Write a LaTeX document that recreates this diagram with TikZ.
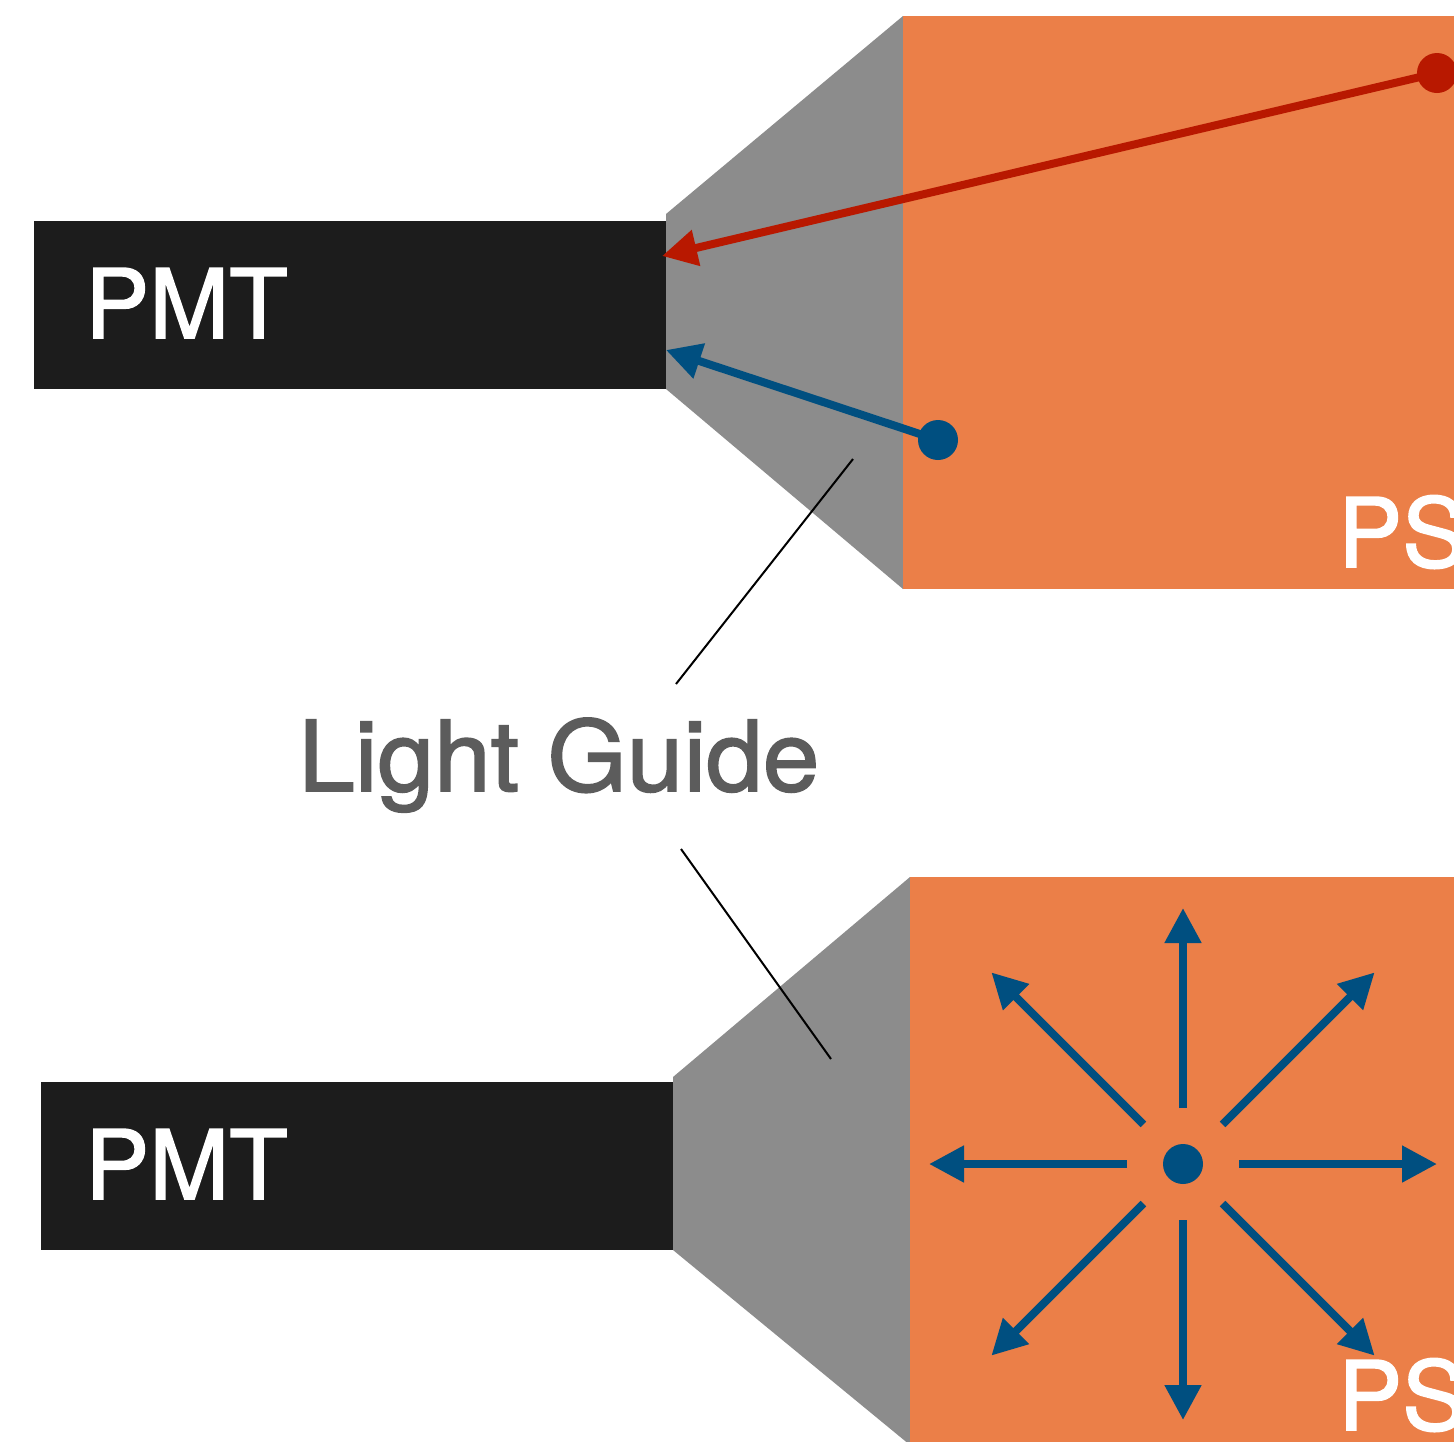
\documentclass[tikz,border=0pt]{standalone}
\usepackage{fontspec}
\setmainfont{TeX Gyre Heros}
\newfontfamily\medfont{TeX Gyre Heros}[FakeBold=1.6]
\usetikzlibrary{arrows.meta}

\definecolor{psorange}{HTML}{EB7F48}
\definecolor{guidegray}{HTML}{8C8C8C}
\definecolor{pmtblack}{HTML}{1C1C1C}
\definecolor{rayred}{HTML}{B81800}
\definecolor{rayblue}{HTML}{004F80}
\definecolor{labelgray}{HTML}{5C5C5C}

\tikzset{
  pmtbox/.style={fill=pmtblack, draw=none},
  guide/.style={fill=guidegray, draw=none},
  scint/.style={fill=psorange, draw=none},
  boxlabel/.style={text=white, inner sep=0pt, anchor=base west,
    font=\medfont\fontsize{96}{100}\selectfont},
  dot/.style={circle, inner sep=0pt, minimum size=40pt, draw=none},
  ray/.style={line width=8pt, -{Triangle[length=35pt,width=35pt]}},
  leader/.style={line width=2pt, black}
}

\begin{document}
\begin{tikzpicture}[x=1pt,y=-1pt]
  \useasboundingbox (0,0) rectangle (1454,1441);
  \clip (0,0) rectangle (1454,1441);
  \fill[white] (0,0) rectangle (1454,1441);

  % ---- upper assembly: PMT, light guide, scintillator ----
  \fill[guide] (666,214) -- (903,16) -- (903,589) -- (666,389) -- cycle;
  \fill[pmtbox] (34,221) rectangle (666,389);
  \fill[scint] (903,16) rectangle (1460,589);
  \node[boxlabel] (pmtA) at (85,338) {PMT};
  \node[boxlabel] (psA) at (1338,567) {PS};

  \coordinate (redtip) at (662,256);
  \coordinate (bluetip) at (666,350);
  \node[dot, fill=rayred] (reddot) at (1437,73) {};
  \node[dot, fill=rayblue] (bluedot) at (938,440) {};
  \draw[ray, rayred] (reddot.center) -- (redtip);
  \draw[ray, rayblue] (bluedot.center) -- (bluetip);

  % ---- lower assembly ----
  \fill[guide] (673,1077) -- (910,877) -- (910,1445) -- (673,1250) -- cycle;
  \fill[pmtbox] (41,1082) rectangle (673,1250);
  \fill[scint] (910,877) rectangle (1460,1445);
  \node[boxlabel] (pmtB) at (85,1199) {PMT};
  \node[boxlabel] (psB) at (1338,1430) {PS};

  % isotropic emission from a point source
  \node[dot, fill=rayblue] (src) at (1183,1164) {};
  \foreach \a/\r in {0/254, 90/256, 180/254, 270/256,
                     45/271, 135/271, 225/271, 315/271} {
    \draw[ray, rayblue] ([shift={(\a:56)}]src.center) -- ([shift={(\a:\r)}]src.center);
  }

  % ---- label with leader lines ----
  \node[text=labelgray, inner sep=0pt, anchor=base west,
        font=\medfont\fontsize{98}{100}\selectfont, xscale=1.04] (lg) at (298,791) {Light Guide};
  \coordinate (lgupper) at (853,459);
  \coordinate (lglower) at (831,1059);
  \coordinate (lgtop) at (676,684);
  \coordinate (lgbottom) at (681,849);
  \draw[leader] (lgtop) -- (lgupper);
  \draw[leader] (lgbottom) -- (lglower);
\end{tikzpicture}
\end{document}
